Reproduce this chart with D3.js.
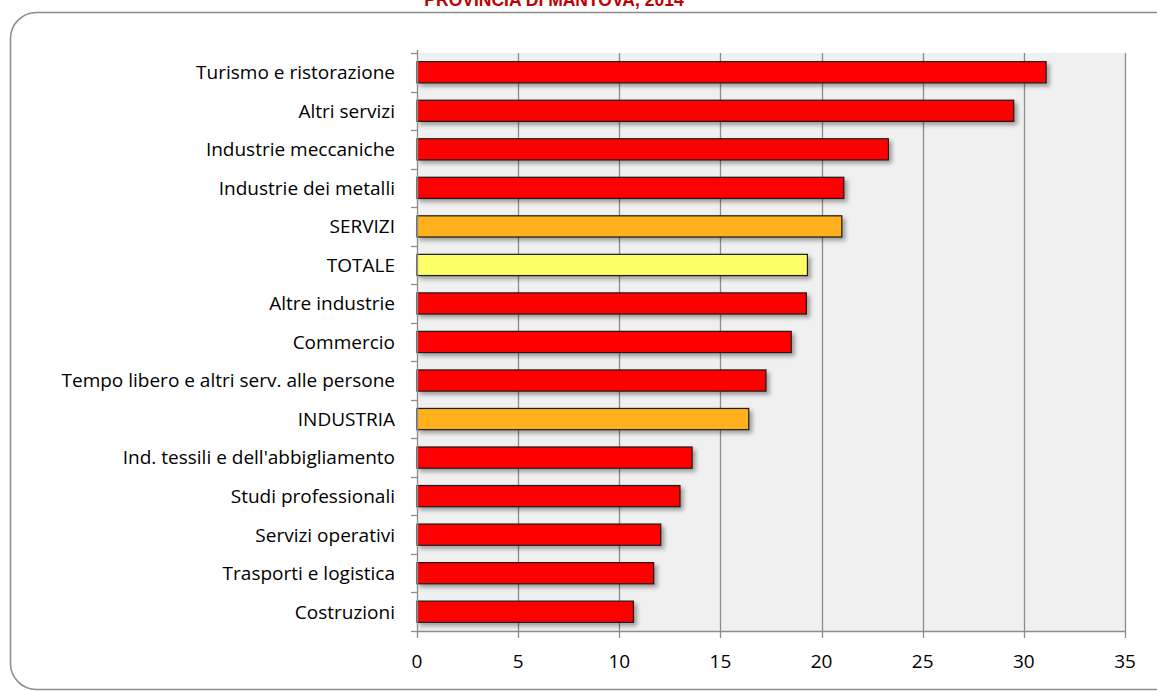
<!DOCTYPE html>
<html>
<head>
<meta charset="utf-8">
<script src="https://cdn.jsdelivr.net/npm/d3@7"></script>
<style>
  body { margin: 0; background: #fff; }
  svg { display: block; }
</style>
</head>
<body>
<svg id="chart" width="1157" height="691"></svg>
<script>
// dati
var categorie = ["Turismo e ristorazione", "Altri servizi", "Industrie meccaniche",
  "Industrie dei metalli", "SERVIZI", "TOTALE", "Altre industrie", "Commercio",
  "Tempo libero e altri serv. alle persone", "INDUSTRIA",
  "Ind. tessili e dell'abbigliamento", "Studi professionali", "Servizi operativi",
  "Trasporti e logistica", "Costruzioni"];
var valori = [31.1, 29.5, 23.3, 21.1, 21.0, 19.3, 19.25, 18.5, 17.25, 16.4, 13.6, 13.0, 12.05, 11.7, 10.7];
var tipo = ["s", "s", "s", "s", "macro", "tot", "s", "s", "s", "macro", "s", "s", "s", "s", "s"];
var tickX = [0, 5, 10, 15, 20, 25, 30, 35];
var titolo = "PROVINCIA DI MANTOVA, 2014";

var colori = { s: "#ff0000", macro: "#ffb01a", tot: "#ffff66" };
var font = "Open Sans, sans-serif";

var svg = d3.select("#chart");

var defs = svg.append("defs");
var f = defs.append("filter").attr("id", "ombra")
  .attr("x", "-5%").attr("y", "-50%").attr("width", "115%").attr("height", "250%");
f.append("feDropShadow").attr("dx", 3).attr("dy", 3).attr("stdDeviation", 2)
  .attr("flood-color", "#000").attr("flood-opacity", 0.35);

// titolo (tagliato in alto come nell'originale)
svg.append("text")
  .attr("x", 554).attr("y", 6)
  .attr("text-anchor", "middle")
  .style("font-family", "Liberation Sans, Arial, sans-serif")
  .style("font-weight", "bold")
  .style("font-size", "17.5px")
  .style("fill", "#c00000")
  .text(titolo);

// cornice arrotondata
svg.append("rect")
  .attr("x", 10.5).attr("y", 12.5)
  .attr("width", 1200).attr("height", 677)
  .attr("rx", 26).attr("ry", 26)
  .style("fill", "none")
  .style("stroke", "#8c8c8c")
  .style("stroke-width", 1.5);

var margin = { left: 417, top: 53 };
var width = 1125 - 417, height = 631 - 53;

var g = svg.append("g").attr("transform", "translate(" + margin.left + "," + margin.top + ")");

var x = d3.scaleLinear().domain([0, 35]).range([0, width]);
var y = d3.scaleBand().domain(categorie).range([0, height]).paddingInner(0.45).paddingOuter(0.225);

g.append("rect").attr("width", width).attr("height", height).style("fill", "#f0f0f0");

// griglia verticale
g.selectAll(".grid").data(tickX.slice(1))
  .enter().append("line")
  .attr("x1", function(d) { return Math.round(x(d)) + 0.5; })
  .attr("x2", function(d) { return Math.round(x(d)) + 0.5; })
  .attr("y1", 0).attr("y2", height)
  .style("stroke", "#8c8c8c").style("stroke-width", 1.3);

// barre
g.selectAll(".bar").data(valori)
  .enter().append("rect")
  .attr("x", x(0))
  .attr("y", function(d, i) { return y(categorie[i]); })
  .attr("width", function(d) { return x(d); })
  .attr("height", y.bandwidth())
  .attr("filter", "url(#ombra)")
  .style("fill", function(d, i) { return colori[tipo[i]]; })
  .style("stroke", "#1a1a1a").style("stroke-width", 1.2);

// asse Y: linea e tacche ai confini delle categorie
var step = height / categorie.length;
g.append("line").attr("x1", 0.5).attr("x2", 0.5).attr("y1", -3).attr("y2", height)
  .style("stroke", "#8c8c8c").style("stroke-width", 1.3);
g.selectAll(".ytick").data(d3.range(categorie.length + 1))
  .enter().append("line")
  .attr("x1", -6).attr("x2", 0)
  .attr("y1", function(d) { return Math.round(d * step) + 0.5; })
  .attr("y2", function(d) { return Math.round(d * step) + 0.5; })
  .style("stroke", "#8c8c8c").style("stroke-width", 1.3);

g.selectAll(".ylab").data(categorie)
  .enter().append("text")
  .attr("x", -22)
  .attr("y", function(d) { return y(d) + y.bandwidth() / 2; })
  .attr("dy", "0.36em")
  .attr("text-anchor", "end")
  .style("font-family", font).style("font-size", "19px").style("fill", "#000")
  .text(function(d) { return d; });

// asse X
g.append("line").attr("x1", 0).attr("x2", width).attr("y1", height + 0.5).attr("y2", height + 0.5)
  .style("stroke", "#8c8c8c").style("stroke-width", 1.3);
g.selectAll(".xtick").data(tickX)
  .enter().append("line")
  .attr("x1", function(d) { return Math.round(x(d)) + 0.5; })
  .attr("x2", function(d) { return Math.round(x(d)) + 0.5; })
  .attr("y1", height).attr("y2", height + 7)
  .style("stroke", "#8c8c8c").style("stroke-width", 1.3);
g.selectAll(".xlab").data(tickX)
  .enter().append("text")
  .attr("x", function(d) { return x(d); })
  .attr("y", height + 37)
  .attr("text-anchor", "middle")
  .style("font-family", font).style("font-size", "19px").style("fill", "#000")
  .text(function(d) { return d; });
</script>
</body>
</html>
